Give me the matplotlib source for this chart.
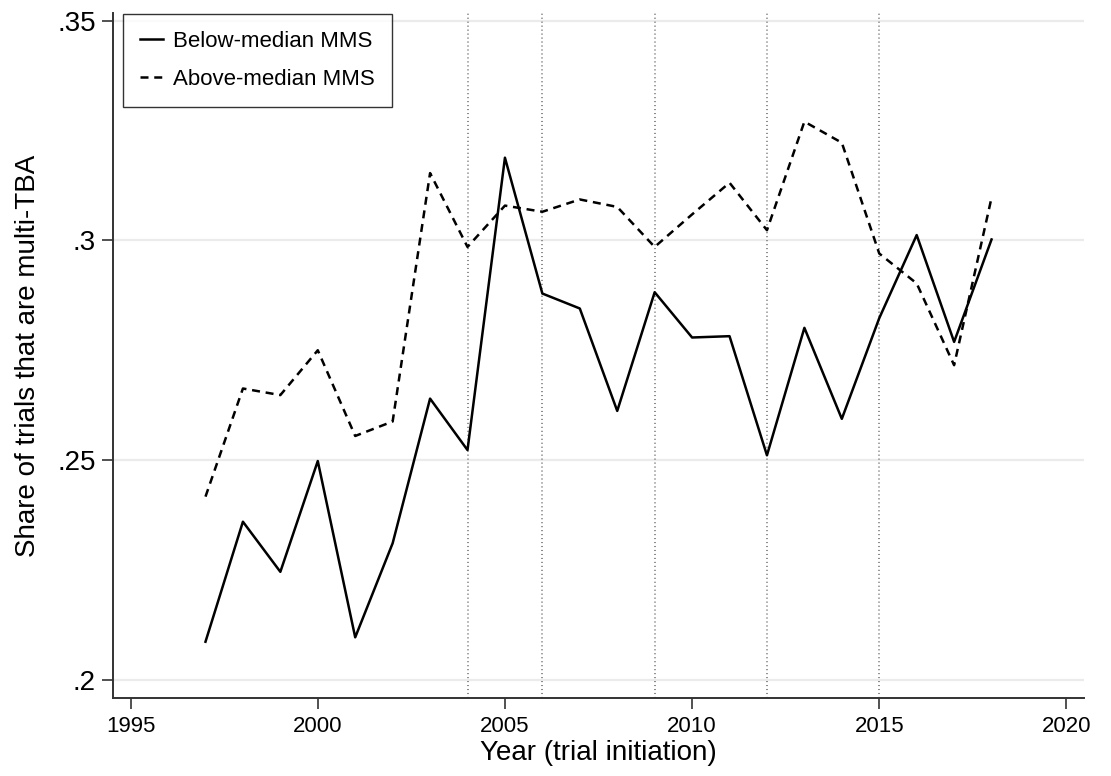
import matplotlib
matplotlib.use("Agg")
import matplotlib.pyplot as plt

plt.rcParams['font.family'] = ['Liberation Sans', 'DejaVu Sans']

years = list(range(1997, 2019))
below_mms = [0.2087, 0.2360, 0.2246, 0.2498, 0.2097, 0.2311, 0.2640, 0.2523,
             0.3188, 0.2879, 0.2845, 0.2612, 0.2882, 0.2779, 0.2782, 0.2511,
             0.2801, 0.2594, 0.2823, 0.3012, 0.2769, 0.3002]
above_mms = [0.2417, 0.2663, 0.2648, 0.2750, 0.2555, 0.2588, 0.3153, 0.2985,
             0.3079, 0.3065, 0.3093, 0.3076, 0.2985, 0.3059, 0.3131, 0.3023,
             0.3270, 0.3222, 0.2970, 0.2902, 0.2716, 0.3097]
event_years = [2004, 2006, 2009, 2012, 2015]
xticks = [1995, 2000, 2005, 2010, 2015, 2020]
yticks = [0.2, 0.25, 0.3, 0.35]
ytick_labels = ['.2', '.25', '.3', '.35']

fig = plt.figure(figsize=(11.11, 7.76), dpi=100)
ax = fig.add_axes([0.1014, 0.1005, 0.8743, 0.8827])

for y in yticks:
    ax.axhline(y, color='#ebebeb', lw=1.6, zorder=0)
for yr in event_years:
    ax.axvline(yr, color='#808080', lw=1.3, ls=(0, (0.6, 1.6)), zorder=1)

ax.plot(years, below_mms, color='black', lw=1.8, label='Below-median MMS', zorder=3)
ax.plot(years, above_mms, color='black', lw=1.8, ls=(0, (3.2, 2.3)),
        label='Above-median MMS', zorder=3)

ax.set_xlim(1994.52, 2020.47)
ax.set_ylim(0.1959, 0.3517)
ax.set_xticks(xticks)
ax.set_yticks(yticks)
ax.set_yticklabels(ytick_labels)
ax.tick_params(axis='x', labelsize=16, length=8, width=1.2, color='#333333', pad=5)
ax.tick_params(axis='y', labelsize=20, length=8, width=1.2, color='#333333', pad=4)
for side in ['top', 'right']:
    ax.spines[side].set_visible(False)
for side in ['left', 'bottom']:
    ax.spines[side].set_linewidth(1.4)
    ax.spines[side].set_color('#333333')

ax.set_xlabel('Year (trial initiation)', fontsize=20, labelpad=2)
ax.set_ylabel('Share of trials that are multi-TBA', fontsize=20, labelpad=12)

leg = ax.legend(loc='upper left', fontsize=16, frameon=True, fancybox=False,
                edgecolor='black', handlelength=1.05, handletextpad=0.45,
                borderpad=0.75, labelspacing=0.77, borderaxespad=0,
                bbox_to_anchor=(0.0111, 0.9985))
leg.get_frame().set_linewidth(1.0)

fig.savefig('out.png', dpi=100)
